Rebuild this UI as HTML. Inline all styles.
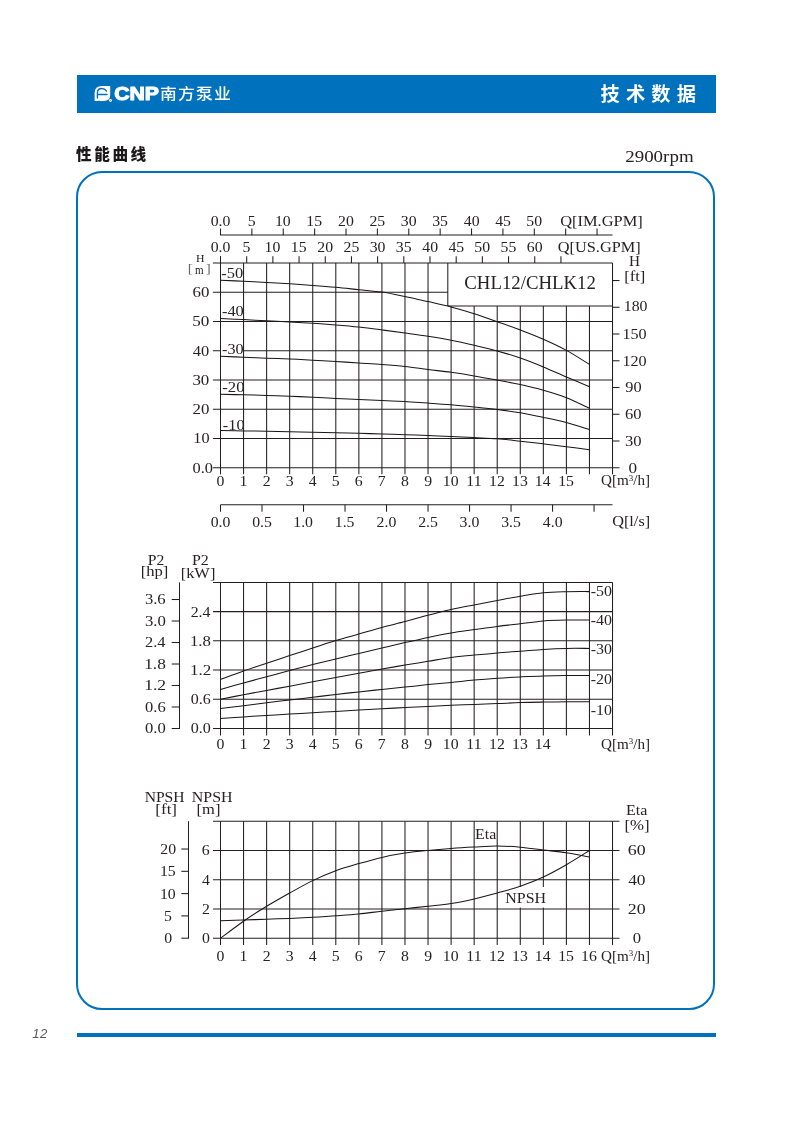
<!DOCTYPE html>
<html lang="zh-CN">
<head>
<meta charset="utf-8">
<title>CNP 南方泵业 - 技术数据 - 性能曲线 CHL12/CHLK12</title>
<style>
html,body{margin:0;padding:0;background:#fff;}
body{width:793px;height:1122px;position:relative;overflow:hidden;font-family:"Liberation Sans","Noto Sans CJK SC",sans-serif;}
.hdr{position:absolute;left:76.8px;top:74.8px;width:639px;height:37.9px;background:#0071bc;}
.brand{position:absolute;left:0;top:0;}
.sect{position:absolute;left:600.6px;top:80.8px;color:#fff;font-weight:700;font-size:19.2px;letter-spacing:6.2px;line-height:28px;white-space:nowrap;font-family:"Liberation Sans","Noto Sans CJK SC",sans-serif;}
.title{position:absolute;left:76.0px;top:143.3px;color:#1c1819;font-weight:900;font-size:15.6px;letter-spacing:2.6px;line-height:24px;white-space:nowrap;font-family:"Liberation Sans","Noto Sans CJK SC",sans-serif;}
.panel{position:absolute;left:76.2px;top:171.0px;width:634.9px;height:834.9px;border:2px solid #0071bc;border-radius:26px;}
.rule{position:absolute;left:76.8px;top:1032.6px;width:639px;height:4.1px;background:#0071bc;}
.pageno{position:absolute;left:32.2px;top:1025.7px;font-family:"Liberation Sans",sans-serif;font-style:italic;font-size:13.2px;line-height:16px;color:#58585a;letter-spacing:0.6px;}
svg.charts{position:absolute;left:0;top:0;}
svg.charts text{font-family:"Liberation Serif",serif;}
</style>
</head>
<body>
<div class="hdr"></div>
<svg class="brand" width="793" height="130" viewBox="0 0 793 130">
<path d="M94.6 100.9V92.9Q94.6 85.9 102 85.9H110.2V95.0Q110.2 100.9 103.8 100.9Z" fill="#fff"/>
<path d="M97.4 98.0V92.9Q97.4 88.5 101.9 88.5Q104.6 88.5 106.5 91.0M97.6 94.3L107.1 94.5" fill="none" stroke="#0071bc" stroke-width="1.35" stroke-linecap="round"/>
<path d="M98.9 100.2L99.3 101.2" stroke="#0071bc" stroke-width="0.5" fill="none"/>
<circle cx="110.5" cy="100.5" r="1.45" fill="#fff"/>
<circle cx="110.5" cy="100.5" r="0.45" fill="#0071bc"/>
<text x="0" y="0" transform="translate(114.2 100.1) scale(1.14 1)" font-family="'Liberation Sans',sans-serif" font-weight="700" font-size="18.6" fill="#fff" stroke="#fff" stroke-width="1.1" stroke-linejoin="round">CNP</text>
<text transform="translate(159.9 99.45) scale(1.1 1)" font-family="'Liberation Sans','Noto Sans CJK SC',sans-serif" font-weight="500" font-size="15.3" fill="#fff" letter-spacing="1.1">南方泵业</text>

</svg>
<div class="sect">技术数据</div>
<div class="title">性能曲线</div>
<div class="panel"></div>
<svg class="charts" width="793" height="1122" viewBox="0 0 793 1122" fill="none">
<text transform="translate(625.2 161.8) scale(1.17 1)" font-size="16.2" fill="#262223" id="rpm">2900rpm</text>
<path d="M220.50 234.90L612.52 234.90" stroke="#231f20" stroke-width="1.05"/>
<path d="M220.50 228.50L220.50 235.30" stroke="#231f20" stroke-width="1.05"/>
<text transform="translate(210.63 225.90) scale(1.1200 1)" font-size="14.1" fill="#262223" >0.0</text>
<path d="M251.88 228.50L251.88 235.30" stroke="#231f20" stroke-width="1.05"/>
<text transform="translate(247.79 225.90) scale(1.1200 1)" font-size="14.1" fill="#262223" >5</text>
<path d="M283.26 228.50L283.26 235.30" stroke="#231f20" stroke-width="1.05"/>
<text transform="translate(274.97 225.90) scale(1.1200 1)" font-size="14.1" fill="#262223" >10</text>
<path d="M314.64 228.50L314.64 235.30" stroke="#231f20" stroke-width="1.05"/>
<text transform="translate(306.37 225.90) scale(1.1200 1)" font-size="14.1" fill="#262223" >15</text>
<path d="M346.02 228.50L346.02 235.30" stroke="#231f20" stroke-width="1.05"/>
<text transform="translate(338.06 225.90) scale(1.1200 1)" font-size="14.1" fill="#262223" >20</text>
<path d="M377.40 228.50L377.40 235.30" stroke="#231f20" stroke-width="1.05"/>
<text transform="translate(369.46 225.90) scale(1.1200 1)" font-size="14.1" fill="#262223" >25</text>
<path d="M408.78 228.50L408.78 235.30" stroke="#231f20" stroke-width="1.05"/>
<text transform="translate(400.81 225.90) scale(1.1200 1)" font-size="14.1" fill="#262223" >30</text>
<path d="M440.16 228.50L440.16 235.30" stroke="#231f20" stroke-width="1.05"/>
<text transform="translate(432.20 225.90) scale(1.1200 1)" font-size="14.1" fill="#262223" >35</text>
<path d="M471.54 228.50L471.54 235.30" stroke="#231f20" stroke-width="1.05"/>
<text transform="translate(463.78 225.90) scale(1.1200 1)" font-size="14.1" fill="#262223" >40</text>
<path d="M502.92 228.50L502.92 235.30" stroke="#231f20" stroke-width="1.05"/>
<text transform="translate(495.18 225.90) scale(1.1200 1)" font-size="14.1" fill="#262223" >45</text>
<path d="M534.30 228.50L534.30 235.30" stroke="#231f20" stroke-width="1.05"/>
<text transform="translate(526.25 225.90) scale(1.1200 1)" font-size="14.1" fill="#262223" >50</text>
<path d="M565.68 228.50L565.68 235.30" stroke="#231f20" stroke-width="1.05"/>
<path d="M597.06 228.50L597.06 235.30" stroke="#231f20" stroke-width="1.05"/>
<text transform="translate(560.24 225.90) scale(1.1645 1)" font-size="14.1" fill="#262223" >Q[IM.GPM]</text>
<path d="M220.50 256.20L220.50 263.00" stroke="#231f20" stroke-width="1.05"/>
<text transform="translate(210.63 251.50) scale(1.1200 1)" font-size="14.1" fill="#262223" >0.0</text>
<path d="M246.69 256.20L246.69 263.00" stroke="#231f20" stroke-width="1.05"/>
<text transform="translate(242.60 251.50) scale(1.1200 1)" font-size="14.1" fill="#262223" >5</text>
<path d="M272.87 256.20L272.87 263.00" stroke="#231f20" stroke-width="1.05"/>
<text transform="translate(264.58 251.50) scale(1.1200 1)" font-size="14.1" fill="#262223" >10</text>
<path d="M299.06 256.20L299.06 263.00" stroke="#231f20" stroke-width="1.05"/>
<text transform="translate(290.79 251.50) scale(1.1200 1)" font-size="14.1" fill="#262223" >15</text>
<path d="M325.25 256.20L325.25 263.00" stroke="#231f20" stroke-width="1.05"/>
<text transform="translate(317.29 251.50) scale(1.1200 1)" font-size="14.1" fill="#262223" >20</text>
<path d="M351.44 256.20L351.44 263.00" stroke="#231f20" stroke-width="1.05"/>
<text transform="translate(343.50 251.50) scale(1.1200 1)" font-size="14.1" fill="#262223" >25</text>
<path d="M377.62 256.20L377.62 263.00" stroke="#231f20" stroke-width="1.05"/>
<text transform="translate(369.65 251.50) scale(1.1200 1)" font-size="14.1" fill="#262223" >30</text>
<path d="M403.81 256.20L403.81 263.00" stroke="#231f20" stroke-width="1.05"/>
<text transform="translate(395.86 251.50) scale(1.1200 1)" font-size="14.1" fill="#262223" >35</text>
<path d="M430.00 256.20L430.00 263.00" stroke="#231f20" stroke-width="1.05"/>
<text transform="translate(422.24 251.50) scale(1.1200 1)" font-size="14.1" fill="#262223" >40</text>
<path d="M456.19 256.20L456.19 263.00" stroke="#231f20" stroke-width="1.05"/>
<text transform="translate(448.45 251.50) scale(1.1200 1)" font-size="14.1" fill="#262223" >45</text>
<path d="M482.37 256.20L482.37 263.00" stroke="#231f20" stroke-width="1.05"/>
<text transform="translate(474.32 251.50) scale(1.1200 1)" font-size="14.1" fill="#262223" >50</text>
<path d="M508.56 256.20L508.56 263.00" stroke="#231f20" stroke-width="1.05"/>
<text transform="translate(500.53 251.50) scale(1.1200 1)" font-size="14.1" fill="#262223" >55</text>
<path d="M534.75 256.20L534.75 263.00" stroke="#231f20" stroke-width="1.05"/>
<text transform="translate(526.81 251.50) scale(1.1200 1)" font-size="14.1" fill="#262223" >60</text>
<path d="M560.93 256.20L560.93 263.00" stroke="#231f20" stroke-width="1.05"/>
<text transform="translate(557.75 251.50) scale(1.1587 1)" font-size="14.1" fill="#262223" >Q[US.GPM]</text>
<path d="M220.50 256.20L220.50 474.35" stroke="#231f20" stroke-width="1.05"/>
<path d="M243.56 263.00L243.56 474.35" stroke="#231f20" stroke-width="1.05"/>
<path d="M266.62 263.00L266.62 474.35" stroke="#231f20" stroke-width="1.05"/>
<path d="M289.68 263.00L289.68 474.35" stroke="#231f20" stroke-width="1.05"/>
<path d="M312.74 263.00L312.74 474.35" stroke="#231f20" stroke-width="1.05"/>
<path d="M335.80 263.00L335.80 474.35" stroke="#231f20" stroke-width="1.05"/>
<path d="M358.86 263.00L358.86 474.35" stroke="#231f20" stroke-width="1.05"/>
<path d="M381.92 263.00L381.92 474.35" stroke="#231f20" stroke-width="1.05"/>
<path d="M404.98 263.00L404.98 474.35" stroke="#231f20" stroke-width="1.05"/>
<path d="M428.04 263.00L428.04 474.35" stroke="#231f20" stroke-width="1.05"/>
<path d="M451.10 305.90L451.10 474.35" stroke="#231f20" stroke-width="1.05"/>
<path d="M474.16 305.90L474.16 474.35" stroke="#231f20" stroke-width="1.05"/>
<path d="M497.22 305.90L497.22 474.35" stroke="#231f20" stroke-width="1.05"/>
<path d="M520.28 305.90L520.28 474.35" stroke="#231f20" stroke-width="1.05"/>
<path d="M543.34 305.90L543.34 474.35" stroke="#231f20" stroke-width="1.05"/>
<path d="M566.40 305.90L566.40 474.35" stroke="#231f20" stroke-width="1.05"/>
<path d="M589.46 305.90L589.46 474.35" stroke="#231f20" stroke-width="1.05"/>
<path d="M612.52 263.00L612.52 474.35" stroke="#231f20" stroke-width="1.05"/>
<path d="M212.90 467.75L619.52 467.75" stroke="#231f20" stroke-width="1.05"/>
<path d="M212.90 438.50L612.52 438.50" stroke="#231f20" stroke-width="1.05"/>
<path d="M212.90 409.25L612.52 409.25" stroke="#231f20" stroke-width="1.05"/>
<path d="M212.90 380.00L612.52 380.00" stroke="#231f20" stroke-width="1.05"/>
<path d="M212.90 350.75L612.52 350.75" stroke="#231f20" stroke-width="1.05"/>
<path d="M212.90 321.50L612.52 321.50" stroke="#231f20" stroke-width="1.05"/>
<path d="M212.90 292.25L447.80 292.25" stroke="#231f20" stroke-width="1.05"/>
<path d="M212.90 263.00L612.52 263.00" stroke="#231f20" stroke-width="1.05"/>
<path d="M447.80 263.00L447.80 305.90" stroke="#231f20" stroke-width="1.05"/>
<path d="M447.80 305.90L612.52 305.90" stroke="#231f20" stroke-width="1.05"/>
<path d="M612.52 441.00L619.52 441.00" stroke="#231f20" stroke-width="1.05"/>
<path d="M612.52 414.26L619.52 414.26" stroke="#231f20" stroke-width="1.05"/>
<path d="M612.52 387.51L619.52 387.51" stroke="#231f20" stroke-width="1.05"/>
<path d="M612.52 360.77L619.52 360.77" stroke="#231f20" stroke-width="1.05"/>
<path d="M612.52 334.02L619.52 334.02" stroke="#231f20" stroke-width="1.05"/>
<path d="M612.52 307.27L619.52 307.27" stroke="#231f20" stroke-width="1.05"/>
<path d="M612.52 280.53L619.52 280.53" stroke="#231f20" stroke-width="1.05"/>
<text transform="translate(193.28 443.40) scale(1.1510 1)" font-size="14.1" fill="#262223" >10</text>
<text transform="translate(192.44 414.15) scale(1.1981 1)" font-size="14.1" fill="#262223" >20</text>
<text transform="translate(192.40 384.90) scale(1.2014 1)" font-size="14.1" fill="#262223" >30</text>
<text transform="translate(192.87 355.65) scale(1.1664 1)" font-size="14.1" fill="#262223" >40</text>
<text transform="translate(192.22 326.40) scale(1.2147 1)" font-size="14.1" fill="#262223" >50</text>
<text transform="translate(192.48 297.15) scale(1.1949 1)" font-size="14.1" fill="#262223" >60</text>
<text transform="translate(192.48 472.65) scale(1.1649 1)" font-size="14.1" fill="#262223" >0.0</text>
<text transform="translate(195.95 261.50) scale(1.0419 1)" font-size="11.3" fill="#262223" >H</text>
<text transform="translate(187.75 272.90) scale(1.1576 1)" font-size="13.2" fill="#6a6667" >[</text>
<text transform="translate(194.88 273.60) scale(0.9052 1)" font-size="12.2" fill="#262223" >m</text>
<text transform="translate(205.67 272.90) scale(1.1448 1)" font-size="13.2" fill="#6a6667" >]</text>
<text transform="translate(629.04 266.30) scale(1.0812 1)" font-size="14.1" fill="#262223" >H</text>
<text transform="translate(624.15 281.00) scale(1.1799 1)" font-size="14.1" fill="#262223" >[ft]</text>
<text transform="translate(623.71 310.50) scale(1.1244 1)" font-size="14.1" fill="#262223" >180</text>
<text transform="translate(622.49 338.92) scale(1.1451 1)" font-size="14.1" fill="#262223" >150</text>
<text transform="translate(622.49 365.67) scale(1.1451 1)" font-size="14.1" fill="#262223" >120</text>
<text transform="translate(625.27 392.41) scale(1.1592 1)" font-size="14.1" fill="#262223" >90</text>
<text transform="translate(625.10 419.16) scale(1.1718 1)" font-size="14.1" fill="#262223" >60</text>
<text transform="translate(625.01 445.90) scale(1.1782 1)" font-size="14.1" fill="#262223" >30</text>
<text transform="translate(628.46 472.55) scale(1.2182 1)" font-size="14.1" fill="#262223" >0</text>
<text transform="translate(216.55 485.80) scale(1.1200 1)" font-size="14.1" fill="#262223" >0</text>
<text transform="translate(239.39 485.80) scale(1.1200 1)" font-size="14.1" fill="#262223" >1</text>
<text transform="translate(262.75 485.80) scale(1.1200 1)" font-size="14.1" fill="#262223" >2</text>
<text transform="translate(285.67 485.80) scale(1.1200 1)" font-size="14.1" fill="#262223" >3</text>
<text transform="translate(308.75 485.80) scale(1.1200 1)" font-size="14.1" fill="#262223" >4</text>
<text transform="translate(331.71 485.80) scale(1.1200 1)" font-size="14.1" fill="#262223" >5</text>
<text transform="translate(354.81 485.80) scale(1.1200 1)" font-size="14.1" fill="#262223" >6</text>
<text transform="translate(377.70 485.80) scale(1.1200 1)" font-size="14.1" fill="#262223" >7</text>
<text transform="translate(401.03 485.80) scale(1.1200 1)" font-size="14.1" fill="#262223" >8</text>
<text transform="translate(424.15 485.80) scale(1.1200 1)" font-size="14.1" fill="#262223" >9</text>
<text transform="translate(442.81 485.80) scale(1.1200 1)" font-size="14.1" fill="#262223" >10</text>
<text transform="translate(466.34 485.80) scale(1.1200 1)" font-size="14.1" fill="#262223" >11</text>
<text transform="translate(489.07 485.80) scale(1.1200 1)" font-size="14.1" fill="#262223" >12</text>
<text transform="translate(512.01 485.80) scale(1.1200 1)" font-size="14.1" fill="#262223" >13</text>
<text transform="translate(534.87 485.80) scale(1.1200 1)" font-size="14.1" fill="#262223" >14</text>
<text transform="translate(558.13 485.80) scale(1.1200 1)" font-size="14.1" fill="#262223" >15</text>
<text transform="translate(600.99 485.40) scale(1.075 1)" font-size="14.1" fill="#262223">Q[m<tspan font-size="8.3" dy="-4.6">3</tspan><tspan dy="4.6">/h]</tspan></text>
<path d="M220.50 504.80L612.52 504.80" stroke="#231f20" stroke-width="1.05"/>
<path d="M220.50 504.80L220.50 511.80" stroke="#231f20" stroke-width="1.05"/>
<text transform="translate(210.63 527.30) scale(1.1200 1)" font-size="14.1" fill="#262223" >0.0</text>
<path d="M262.01 504.80L262.01 511.80" stroke="#231f20" stroke-width="1.05"/>
<text transform="translate(252.16 527.30) scale(1.1200 1)" font-size="14.1" fill="#262223" >0.5</text>
<path d="M303.52 504.80L303.52 511.80" stroke="#231f20" stroke-width="1.05"/>
<text transform="translate(293.25 527.30) scale(1.1200 1)" font-size="14.1" fill="#262223" >1.0</text>
<path d="M345.02 504.80L345.02 511.80" stroke="#231f20" stroke-width="1.05"/>
<text transform="translate(334.78 527.30) scale(1.1200 1)" font-size="14.1" fill="#262223" >1.5</text>
<path d="M386.53 504.80L386.53 511.80" stroke="#231f20" stroke-width="1.05"/>
<text transform="translate(376.60 527.30) scale(1.1200 1)" font-size="14.1" fill="#262223" >2.0</text>
<path d="M428.04 504.80L428.04 511.80" stroke="#231f20" stroke-width="1.05"/>
<text transform="translate(418.13 527.30) scale(1.1200 1)" font-size="14.1" fill="#262223" >2.5</text>
<path d="M469.55 504.80L469.55 511.80" stroke="#231f20" stroke-width="1.05"/>
<text transform="translate(459.60 527.30) scale(1.1200 1)" font-size="14.1" fill="#262223" >3.0</text>
<path d="M511.06 504.80L511.06 511.80" stroke="#231f20" stroke-width="1.05"/>
<text transform="translate(501.13 527.30) scale(1.1200 1)" font-size="14.1" fill="#262223" >3.5</text>
<path d="M552.56 504.80L552.56 511.80" stroke="#231f20" stroke-width="1.05"/>
<text transform="translate(542.83 527.30) scale(1.1200 1)" font-size="14.1" fill="#262223" >4.0</text>
<path d="M594.07 504.80L594.07 511.80" stroke="#231f20" stroke-width="1.05"/>
<text transform="translate(612.15 526.10) scale(1.1565 1)" font-size="14.1" fill="#262223" >Q[l/s]</text>
<text transform="translate(464.35 289.20) scale(1.0321 1)" font-size="18.2" fill="#262223" >CHL12/CHLK12</text>
<rect x="221.10" y="344" width="21.86" height="11" fill="#fff"/>
<path d="M220.50 280.20C224.34 280.38 235.87 280.92 243.56 281.30C251.25 281.68 258.93 282.08 266.62 282.50C274.31 282.92 281.99 283.32 289.68 283.80C297.37 284.28 305.05 284.82 312.74 285.40C320.43 285.98 328.11 286.58 335.80 287.30C343.49 288.02 351.17 288.90 358.86 289.70C366.55 290.50 374.23 290.97 381.92 292.10C389.61 293.23 397.29 294.92 404.98 296.50C412.67 298.08 420.35 299.87 428.04 301.60C435.73 303.33 443.41 304.88 451.10 306.90C458.79 308.92 466.47 311.23 474.16 313.70C481.85 316.17 489.53 318.98 497.22 321.70C504.91 324.42 512.59 327.07 520.28 330.00C527.97 332.93 535.65 335.90 543.34 339.30C551.03 342.70 558.71 346.22 566.40 350.40C574.09 354.58 585.62 362.07 589.46 364.40" stroke="#1a1617" stroke-width="1.05" fill="none"/>
<path d="M220.50 318.40C224.34 318.60 235.87 319.22 243.56 319.60C251.25 319.98 258.93 320.32 266.62 320.70C274.31 321.08 281.99 321.47 289.68 321.90C297.37 322.33 305.05 322.78 312.74 323.30C320.43 323.82 328.11 324.37 335.80 325.00C343.49 325.63 351.17 326.28 358.86 327.10C366.55 327.92 374.23 328.92 381.92 329.90C389.61 330.88 397.29 331.93 404.98 333.00C412.67 334.07 420.35 335.08 428.04 336.30C435.73 337.52 443.41 338.80 451.10 340.30C458.79 341.80 466.47 343.53 474.16 345.30C481.85 347.07 489.53 348.78 497.22 350.90C504.91 353.02 512.59 355.33 520.28 358.00C527.97 360.67 535.65 363.73 543.34 366.90C551.03 370.07 558.71 373.70 566.40 377.00C574.09 380.30 585.62 385.08 589.46 386.70" stroke="#1a1617" stroke-width="1.05" fill="none"/>
<path d="M220.50 356.30C224.34 356.45 235.87 356.88 243.56 357.20C251.25 357.52 258.93 357.90 266.62 358.20C274.31 358.50 281.99 358.67 289.68 359.00C297.37 359.33 305.05 359.78 312.74 360.20C320.43 360.62 328.11 361.03 335.80 361.50C343.49 361.97 351.17 362.50 358.86 363.00C366.55 363.50 374.23 363.92 381.92 364.50C389.61 365.08 397.29 365.67 404.98 366.50C412.67 367.33 420.35 368.53 428.04 369.50C435.73 370.47 443.41 371.23 451.10 372.30C458.79 373.37 466.47 374.60 474.16 375.90C481.85 377.20 489.53 378.65 497.22 380.10C504.91 381.55 512.59 382.90 520.28 384.60C527.97 386.30 535.65 388.12 543.34 390.30C551.03 392.48 558.71 394.70 566.40 397.70C574.09 400.70 585.62 406.53 589.46 408.30" stroke="#1a1617" stroke-width="1.05" fill="none"/>
<path d="M220.50 394.30C224.34 394.38 235.87 394.62 243.56 394.80C251.25 394.98 258.93 395.17 266.62 395.40C274.31 395.63 281.99 395.90 289.68 396.20C297.37 396.50 305.05 396.83 312.74 397.20C320.43 397.57 328.11 398.02 335.80 398.40C343.49 398.78 351.17 399.15 358.86 399.50C366.55 399.85 374.23 400.15 381.92 400.50C389.61 400.85 397.29 401.17 404.98 401.60C412.67 402.03 420.35 402.57 428.04 403.10C435.73 403.63 443.41 404.15 451.10 404.80C458.79 405.45 466.47 406.22 474.16 407.00C481.85 407.78 489.53 408.53 497.22 409.50C504.91 410.47 512.59 411.48 520.28 412.80C527.97 414.12 535.65 415.77 543.34 417.40C551.03 419.03 558.71 420.58 566.40 422.60C574.09 424.62 585.62 428.35 589.46 429.50" stroke="#1a1617" stroke-width="1.05" fill="none"/>
<path d="M220.50 430.60C224.34 430.65 235.87 430.78 243.56 430.90C251.25 431.02 258.93 431.17 266.62 431.30C274.31 431.43 281.99 431.55 289.68 431.70C297.37 431.85 305.05 432.02 312.74 432.20C320.43 432.38 328.11 432.62 335.80 432.80C343.49 432.98 351.17 433.10 358.86 433.30C366.55 433.50 374.23 433.77 381.92 434.00C389.61 434.23 397.29 434.45 404.98 434.70C412.67 434.95 420.35 435.20 428.04 435.50C435.73 435.80 443.41 436.15 451.10 436.50C458.79 436.85 466.47 437.22 474.16 437.60C481.85 437.98 489.53 438.20 497.22 438.80C504.91 439.40 512.59 440.37 520.28 441.20C527.97 442.03 535.65 442.88 543.34 443.80C551.03 444.72 558.71 445.72 566.40 446.70C574.09 447.68 585.62 449.20 589.46 449.70" stroke="#1a1617" stroke-width="1.05" fill="none"/>
<text transform="translate(221.29 277.70) scale(1.1618 1)" font-size="14.1" fill="#262223" >-50</text>
<text transform="translate(221.99 316.00) scale(1.1618 1)" font-size="14.1" fill="#262223" >-40</text>
<text transform="translate(221.99 354.40) scale(1.1505 1)" font-size="14.1" fill="#262223" >-30</text>
<text transform="translate(222.27 392.00) scale(1.1844 1)" font-size="14.1" fill="#262223" >-20</text>
<text transform="translate(222.68 429.70) scale(1.1675 1)" font-size="14.1" fill="#262223" >-10</text>
<path d="M220.50 582.40L220.50 735.50" stroke="#231f20" stroke-width="1.05"/>
<path d="M243.56 582.40L243.56 735.50" stroke="#231f20" stroke-width="1.05"/>
<path d="M266.62 582.40L266.62 735.50" stroke="#231f20" stroke-width="1.05"/>
<path d="M289.68 582.40L289.68 735.50" stroke="#231f20" stroke-width="1.05"/>
<path d="M312.74 582.40L312.74 735.50" stroke="#231f20" stroke-width="1.05"/>
<path d="M335.80 582.40L335.80 735.50" stroke="#231f20" stroke-width="1.05"/>
<path d="M358.86 582.40L358.86 735.50" stroke="#231f20" stroke-width="1.05"/>
<path d="M381.92 582.40L381.92 735.50" stroke="#231f20" stroke-width="1.05"/>
<path d="M404.98 582.40L404.98 735.50" stroke="#231f20" stroke-width="1.05"/>
<path d="M428.04 582.40L428.04 735.50" stroke="#231f20" stroke-width="1.05"/>
<path d="M451.10 582.40L451.10 735.50" stroke="#231f20" stroke-width="1.05"/>
<path d="M474.16 582.40L474.16 735.50" stroke="#231f20" stroke-width="1.05"/>
<path d="M497.22 582.40L497.22 735.50" stroke="#231f20" stroke-width="1.05"/>
<path d="M520.28 582.40L520.28 735.50" stroke="#231f20" stroke-width="1.05"/>
<path d="M543.34 582.40L543.34 735.50" stroke="#231f20" stroke-width="1.05"/>
<path d="M566.40 582.40L566.40 735.50" stroke="#231f20" stroke-width="1.05"/>
<path d="M589.46 582.40L589.46 735.50" stroke="#231f20" stroke-width="1.05"/>
<path d="M612.52 582.40L612.52 735.50" stroke="#231f20" stroke-width="1.05"/>
<path d="M213.00 728.50L612.52 728.50" stroke="#231f20" stroke-width="1.05"/>
<path d="M213.00 699.28L612.52 699.28" stroke="#231f20" stroke-width="1.05"/>
<path d="M213.00 670.06L612.52 670.06" stroke="#231f20" stroke-width="1.05"/>
<path d="M213.00 640.84L612.52 640.84" stroke="#231f20" stroke-width="1.05"/>
<path d="M213.00 611.62L612.52 611.62" stroke="#231f20" stroke-width="1.05"/>
<path d="M213.00 582.40L612.52 582.40" stroke="#231f20" stroke-width="1.05"/>
<path d="M179.50 582.40L179.50 728.90" stroke="#231f20" stroke-width="1.05"/>
<path d="M171.70 728.50L179.50 728.50" stroke="#231f20" stroke-width="1.05"/>
<text transform="translate(145.08 733.40) scale(1.1770 1)" font-size="14.1" fill="#262223" >0.0</text>
<path d="M171.70 707.00L179.50 707.00" stroke="#231f20" stroke-width="1.05"/>
<text transform="translate(145.08 711.90) scale(1.1695 1)" font-size="14.1" fill="#262223" >0.6</text>
<path d="M171.70 685.50L179.50 685.50" stroke="#231f20" stroke-width="1.05"/>
<text transform="translate(144.16 690.40) scale(1.2487 1)" font-size="14.1" fill="#262223" >1.2</text>
<path d="M171.70 664.01L179.50 664.01" stroke="#231f20" stroke-width="1.05"/>
<text transform="translate(144.18 668.91) scale(1.2293 1)" font-size="14.1" fill="#262223" >1.8</text>
<path d="M171.70 642.51L179.50 642.51" stroke="#231f20" stroke-width="1.05"/>
<text transform="translate(144.96 647.41) scale(1.1622 1)" font-size="14.1" fill="#262223" >2.4</text>
<path d="M171.70 621.01L179.50 621.01" stroke="#231f20" stroke-width="1.05"/>
<text transform="translate(144.90 625.91) scale(1.1871 1)" font-size="14.1" fill="#262223" >3.0</text>
<path d="M171.70 599.51L179.50 599.51" stroke="#231f20" stroke-width="1.05"/>
<text transform="translate(144.91 604.41) scale(1.1795 1)" font-size="14.1" fill="#262223" >3.6</text>
<text transform="translate(190.80 733.40) scale(1.1408 1)" font-size="14.1" fill="#262223" >0.0</text>
<text transform="translate(190.80 704.18) scale(1.1336 1)" font-size="14.1" fill="#262223" >0.6</text>
<text transform="translate(189.91 674.96) scale(1.2103 1)" font-size="14.1" fill="#262223" >1.2</text>
<text transform="translate(189.93 645.74) scale(1.1915 1)" font-size="14.1" fill="#262223" >1.8</text>
<text transform="translate(190.69 616.52) scale(1.1264 1)" font-size="14.1" fill="#262223" >2.4</text>
<text transform="translate(147.73 564.90) scale(1.1114 1)" font-size="14.1" fill="#262223" >P2</text>
<text transform="translate(140.65 575.70) scale(1.1824 1)" font-size="14.1" fill="#262223" >[hp]</text>
<text transform="translate(191.92 564.90) scale(1.1333 1)" font-size="14.1" fill="#262223" >P2</text>
<text transform="translate(180.67 577.60) scale(1.1673 1)" font-size="14.1" fill="#262223" >[kW]</text>
<text transform="translate(216.55 749.00) scale(1.1200 1)" font-size="14.1" fill="#262223" >0</text>
<text transform="translate(239.39 749.00) scale(1.1200 1)" font-size="14.1" fill="#262223" >1</text>
<text transform="translate(262.75 749.00) scale(1.1200 1)" font-size="14.1" fill="#262223" >2</text>
<text transform="translate(285.67 749.00) scale(1.1200 1)" font-size="14.1" fill="#262223" >3</text>
<text transform="translate(308.75 749.00) scale(1.1200 1)" font-size="14.1" fill="#262223" >4</text>
<text transform="translate(331.71 749.00) scale(1.1200 1)" font-size="14.1" fill="#262223" >5</text>
<text transform="translate(354.81 749.00) scale(1.1200 1)" font-size="14.1" fill="#262223" >6</text>
<text transform="translate(377.70 749.00) scale(1.1200 1)" font-size="14.1" fill="#262223" >7</text>
<text transform="translate(401.03 749.00) scale(1.1200 1)" font-size="14.1" fill="#262223" >8</text>
<text transform="translate(424.15 749.00) scale(1.1200 1)" font-size="14.1" fill="#262223" >9</text>
<text transform="translate(442.81 749.00) scale(1.1200 1)" font-size="14.1" fill="#262223" >10</text>
<text transform="translate(466.34 749.00) scale(1.1200 1)" font-size="14.1" fill="#262223" >11</text>
<text transform="translate(489.07 749.00) scale(1.1200 1)" font-size="14.1" fill="#262223" >12</text>
<text transform="translate(512.01 749.00) scale(1.1200 1)" font-size="14.1" fill="#262223" >13</text>
<text transform="translate(534.87 749.00) scale(1.1200 1)" font-size="14.1" fill="#262223" >14</text>
<text transform="translate(600.99 748.60) scale(1.075 1)" font-size="14.1" fill="#262223">Q[m<tspan font-size="8.3" dy="-4.6">3</tspan><tspan dy="4.6">/h]</tspan></text>
<path d="M220.50 679.60C224.34 678.17 235.87 673.73 243.56 671.00C251.25 668.27 258.93 665.77 266.62 663.20C274.31 660.63 281.99 658.12 289.68 655.60C297.37 653.08 305.05 650.60 312.74 648.10C320.43 645.60 328.11 642.95 335.80 640.60C343.49 638.25 351.17 636.20 358.86 634.00C366.55 631.80 374.23 629.48 381.92 627.40C389.61 625.32 397.29 623.53 404.98 621.50C412.67 619.47 420.35 617.20 428.04 615.20C435.73 613.20 443.41 611.22 451.10 609.50C458.79 607.78 466.47 606.40 474.16 604.90C481.85 603.40 489.53 601.95 497.22 600.50C504.91 599.05 512.59 597.50 520.28 596.20C527.97 594.90 535.65 593.45 543.34 592.70C551.03 591.95 558.71 591.88 566.40 591.70C574.09 591.52 585.62 591.62 589.46 591.60" stroke="#1a1617" stroke-width="1.05" fill="none"/>
<path d="M220.50 689.40C224.34 688.32 235.87 685.00 243.56 682.90C251.25 680.80 258.93 678.87 266.62 676.80C274.31 674.73 281.99 672.53 289.68 670.50C297.37 668.47 305.05 666.52 312.74 664.60C320.43 662.68 328.11 660.85 335.80 659.00C343.49 657.15 351.17 655.32 358.86 653.50C366.55 651.68 374.23 649.92 381.92 648.10C389.61 646.28 397.29 644.38 404.98 642.60C412.67 640.82 420.35 639.02 428.04 637.40C435.73 635.78 443.41 634.20 451.10 632.90C458.79 631.60 466.47 630.68 474.16 629.60C481.85 628.52 489.53 627.38 497.22 626.40C504.91 625.42 512.59 624.62 520.28 623.70C527.97 622.78 535.65 621.52 543.34 620.90C551.03 620.28 558.71 620.15 566.40 620.00C574.09 619.85 585.62 620.00 589.46 620.00" stroke="#1a1617" stroke-width="1.05" fill="none"/>
<path d="M220.50 699.30C224.34 698.53 235.87 696.18 243.56 694.70C251.25 693.22 258.93 691.82 266.62 690.40C274.31 688.98 281.99 687.63 289.68 686.20C297.37 684.77 305.05 683.27 312.74 681.80C320.43 680.33 328.11 678.82 335.80 677.40C343.49 675.98 351.17 674.70 358.86 673.30C366.55 671.90 374.23 670.37 381.92 669.00C389.61 667.63 397.29 666.38 404.98 665.10C412.67 663.82 420.35 662.55 428.04 661.30C435.73 660.05 443.41 658.63 451.10 657.60C458.79 656.57 466.47 655.88 474.16 655.10C481.85 654.32 489.53 653.55 497.22 652.90C504.91 652.25 512.59 651.78 520.28 651.20C527.97 650.62 535.65 649.87 543.34 649.40C551.03 648.93 558.71 648.57 566.40 648.40C574.09 648.23 585.62 648.40 589.46 648.40" stroke="#1a1617" stroke-width="1.05" fill="none"/>
<path d="M220.50 708.60C224.34 708.13 235.87 706.77 243.56 705.80C251.25 704.83 258.93 703.77 266.62 702.80C274.31 701.83 281.99 700.92 289.68 700.00C297.37 699.08 305.05 698.23 312.74 697.30C320.43 696.37 328.11 695.30 335.80 694.40C343.49 693.50 351.17 692.73 358.86 691.90C366.55 691.07 374.23 690.20 381.92 689.40C389.61 688.60 397.29 687.90 404.98 687.10C412.67 686.30 420.35 685.38 428.04 684.60C435.73 683.82 443.41 683.17 451.10 682.40C458.79 681.63 466.47 680.70 474.16 680.00C481.85 679.30 489.53 678.72 497.22 678.20C504.91 677.68 512.59 677.28 520.28 676.90C527.97 676.52 535.65 676.13 543.34 675.90C551.03 675.67 558.71 675.57 566.40 675.50C574.09 675.43 585.62 675.50 589.46 675.50" stroke="#1a1617" stroke-width="1.05" fill="none"/>
<path d="M220.50 718.40C224.34 718.15 235.87 717.40 243.56 716.90C251.25 716.40 258.93 715.87 266.62 715.40C274.31 714.93 281.99 714.53 289.68 714.10C297.37 713.67 305.05 713.25 312.74 712.80C320.43 712.35 328.11 711.85 335.80 711.40C343.49 710.95 351.17 710.55 358.86 710.10C366.55 709.65 374.23 709.12 381.92 708.70C389.61 708.28 397.29 707.98 404.98 707.60C412.67 707.22 420.35 706.78 428.04 706.40C435.73 706.02 443.41 705.63 451.10 705.30C458.79 704.97 466.47 704.68 474.16 704.40C481.85 704.12 489.53 703.90 497.22 703.60C504.91 703.30 512.59 702.85 520.28 702.60C527.97 702.35 535.65 702.23 543.34 702.10C551.03 701.97 558.71 701.85 566.40 701.80C574.09 701.75 585.62 701.80 589.46 701.80" stroke="#1a1617" stroke-width="1.05" fill="none"/>
<text transform="translate(590.70 596.20) scale(1.1280 1)" font-size="14.1" fill="#262223" >-50</text>
<text transform="translate(590.70 625.40) scale(1.1280 1)" font-size="14.1" fill="#262223" >-40</text>
<text transform="translate(590.70 654.40) scale(1.1280 1)" font-size="14.1" fill="#262223" >-30</text>
<text transform="translate(590.70 684.00) scale(1.1280 1)" font-size="14.1" fill="#262223" >-20</text>
<text transform="translate(590.70 715.00) scale(1.1280 1)" font-size="14.1" fill="#262223" >-10</text>
<path d="M220.50 821.16L220.50 945.00" stroke="#231f20" stroke-width="1.05"/>
<path d="M243.56 821.16L243.56 945.00" stroke="#231f20" stroke-width="1.05"/>
<path d="M266.62 821.16L266.62 945.00" stroke="#231f20" stroke-width="1.05"/>
<path d="M289.68 821.16L289.68 945.00" stroke="#231f20" stroke-width="1.05"/>
<path d="M312.74 821.16L312.74 945.00" stroke="#231f20" stroke-width="1.05"/>
<path d="M335.80 821.16L335.80 945.00" stroke="#231f20" stroke-width="1.05"/>
<path d="M358.86 821.16L358.86 945.00" stroke="#231f20" stroke-width="1.05"/>
<path d="M381.92 821.16L381.92 945.00" stroke="#231f20" stroke-width="1.05"/>
<path d="M404.98 821.16L404.98 945.00" stroke="#231f20" stroke-width="1.05"/>
<path d="M428.04 821.16L428.04 945.00" stroke="#231f20" stroke-width="1.05"/>
<path d="M451.10 821.16L451.10 945.00" stroke="#231f20" stroke-width="1.05"/>
<path d="M474.16 821.16L474.16 945.00" stroke="#231f20" stroke-width="1.05"/>
<path d="M497.22 821.16L497.22 945.00" stroke="#231f20" stroke-width="1.05"/>
<path d="M520.28 821.16L520.28 945.00" stroke="#231f20" stroke-width="1.05"/>
<path d="M543.34 821.16L543.34 945.00" stroke="#231f20" stroke-width="1.05"/>
<path d="M566.40 821.16L566.40 945.00" stroke="#231f20" stroke-width="1.05"/>
<path d="M589.46 821.16L589.46 945.00" stroke="#231f20" stroke-width="1.05"/>
<path d="M612.52 821.16L612.52 945.00" stroke="#231f20" stroke-width="1.05"/>
<path d="M213.00 938.20L619.52 938.20" stroke="#231f20" stroke-width="1.05"/>
<path d="M213.00 908.94L619.52 908.94" stroke="#231f20" stroke-width="1.05"/>
<path d="M213.00 879.68L619.52 879.68" stroke="#231f20" stroke-width="1.05"/>
<path d="M213.00 850.42L619.52 850.42" stroke="#231f20" stroke-width="1.05"/>
<path d="M213.00 821.16L619.52 821.16" stroke="#231f20" stroke-width="1.05"/>
<path d="M188.50 821.16L188.50 938.60" stroke="#231f20" stroke-width="1.05"/>
<path d="M181.30 938.20L188.50 938.20" stroke="#231f20" stroke-width="1.05"/>
<text transform="translate(164.25 943.10) scale(1.1200 1)" font-size="14.1" fill="#262223" >0</text>
<path d="M181.30 915.90L188.50 915.90" stroke="#231f20" stroke-width="1.05"/>
<text transform="translate(164.11 920.80) scale(1.1200 1)" font-size="14.1" fill="#262223" >5</text>
<path d="M181.30 893.61L188.50 893.61" stroke="#231f20" stroke-width="1.05"/>
<text transform="translate(159.91 898.51) scale(1.1200 1)" font-size="14.1" fill="#262223" >10</text>
<path d="M181.30 871.31L188.50 871.31" stroke="#231f20" stroke-width="1.05"/>
<text transform="translate(159.93 876.21) scale(1.1200 1)" font-size="14.1" fill="#262223" >15</text>
<path d="M181.30 849.02L188.50 849.02" stroke="#231f20" stroke-width="1.05"/>
<text transform="translate(160.24 853.92) scale(1.1200 1)" font-size="14.1" fill="#262223" >20</text>
<text transform="translate(201.95 943.10) scale(1.1200 1)" font-size="14.1" fill="#262223" >0</text>
<text transform="translate(202.03 913.84) scale(1.1200 1)" font-size="14.1" fill="#262223" >2</text>
<text transform="translate(201.91 884.58) scale(1.1200 1)" font-size="14.1" fill="#262223" >4</text>
<text transform="translate(201.85 855.32) scale(1.1200 1)" font-size="14.1" fill="#262223" >6</text>
<text transform="translate(144.63 802.20) scale(1.1103 1)" font-size="14.1" fill="#262223" >NPSH</text>
<text transform="translate(191.82 802.20) scale(1.1302 1)" font-size="14.1" fill="#262223" >NPSH</text>
<text transform="translate(155.33 814.00) scale(1.2050 1)" font-size="14.1" fill="#262223" >[ft]</text>
<text transform="translate(196.56 814.00) scale(1.1720 1)" font-size="14.1" fill="#262223" >[m]</text>
<text transform="translate(216.55 961.30) scale(1.1200 1)" font-size="14.1" fill="#262223" >0</text>
<text transform="translate(239.39 961.30) scale(1.1200 1)" font-size="14.1" fill="#262223" >1</text>
<text transform="translate(262.75 961.30) scale(1.1200 1)" font-size="14.1" fill="#262223" >2</text>
<text transform="translate(285.67 961.30) scale(1.1200 1)" font-size="14.1" fill="#262223" >3</text>
<text transform="translate(308.75 961.30) scale(1.1200 1)" font-size="14.1" fill="#262223" >4</text>
<text transform="translate(331.71 961.30) scale(1.1200 1)" font-size="14.1" fill="#262223" >5</text>
<text transform="translate(354.81 961.30) scale(1.1200 1)" font-size="14.1" fill="#262223" >6</text>
<text transform="translate(377.70 961.30) scale(1.1200 1)" font-size="14.1" fill="#262223" >7</text>
<text transform="translate(401.03 961.30) scale(1.1200 1)" font-size="14.1" fill="#262223" >8</text>
<text transform="translate(424.15 961.30) scale(1.1200 1)" font-size="14.1" fill="#262223" >9</text>
<text transform="translate(442.81 961.30) scale(1.1200 1)" font-size="14.1" fill="#262223" >10</text>
<text transform="translate(466.34 961.30) scale(1.1200 1)" font-size="14.1" fill="#262223" >11</text>
<text transform="translate(489.07 961.30) scale(1.1200 1)" font-size="14.1" fill="#262223" >12</text>
<text transform="translate(512.01 961.30) scale(1.1200 1)" font-size="14.1" fill="#262223" >13</text>
<text transform="translate(534.87 961.30) scale(1.1200 1)" font-size="14.1" fill="#262223" >14</text>
<text transform="translate(558.13 961.30) scale(1.1200 1)" font-size="14.1" fill="#262223" >15</text>
<text transform="translate(581.11 961.30) scale(1.1200 1)" font-size="14.1" fill="#262223" >16</text>
<text transform="translate(600.99 961.00) scale(1.075 1)" font-size="14.1" fill="#262223">Q[m<tspan font-size="8.3" dy="-4.6">3</tspan><tspan dy="4.6">/h]</tspan></text>
<text transform="translate(626.02 814.70) scale(1.1348 1)" font-size="14.1" fill="#262223" >Eta</text>
<text transform="translate(624.44 830.40) scale(1.1925 1)" font-size="14.1" fill="#262223" >[%]</text>
<text transform="translate(627.70 913.84) scale(1.2677 1)" font-size="14.1" fill="#262223" >20</text>
<text transform="translate(628.15 884.58) scale(1.2341 1)" font-size="14.1" fill="#262223" >40</text>
<text transform="translate(627.74 855.32) scale(1.2643 1)" font-size="14.1" fill="#262223" >60</text>
<text transform="translate(632.87 943.10) scale(1.1848 1)" font-size="14.1" fill="#262223" >0</text>
<rect x="504.6" y="887" width="42.6" height="20.6" fill="#fff"/>
<path d="M220.50 938.20C224.34 935.37 235.87 926.52 243.56 921.20C251.25 915.88 258.93 911.00 266.62 906.30C274.31 901.60 281.99 897.28 289.68 893.00C297.37 888.72 305.05 884.30 312.74 880.60C320.43 876.90 328.11 873.63 335.80 870.80C343.49 867.97 351.17 865.83 358.86 863.60C366.55 861.37 374.23 859.15 381.92 857.40C389.61 855.65 397.29 854.27 404.98 853.10C412.67 851.93 420.35 851.18 428.04 850.40C435.73 849.62 443.41 848.97 451.10 848.40C458.79 847.83 466.47 847.40 474.16 847.00C481.85 846.60 489.53 845.97 497.22 846.00C504.91 846.03 512.59 846.53 520.28 847.20C527.97 847.87 535.65 849.07 543.34 850.00C551.03 850.93 558.71 851.62 566.40 852.80C574.09 853.98 585.62 856.38 589.46 857.10" stroke="#1a1617" stroke-width="1.05" fill="none"/>
<path d="M220.50 920.70C224.34 920.58 235.87 920.25 243.56 920.00C251.25 919.75 258.93 919.47 266.62 919.20C274.31 918.93 281.99 918.72 289.68 918.40C297.37 918.08 305.05 917.73 312.74 917.30C320.43 916.87 328.11 916.35 335.80 915.80C343.49 915.25 351.17 914.77 358.86 914.00C366.55 913.23 374.23 912.08 381.92 911.20C389.61 910.32 397.29 909.53 404.98 908.70C412.67 907.87 420.35 907.07 428.04 906.20C435.73 905.33 443.41 904.72 451.10 903.50C458.79 902.28 466.47 900.67 474.16 898.90C481.85 897.13 489.53 895.00 497.22 892.90C504.91 890.80 512.59 888.95 520.28 886.30C527.97 883.65 535.65 880.60 543.34 877.00C551.03 873.40 558.71 869.12 566.40 864.70C574.09 860.28 585.62 852.87 589.46 850.50" stroke="#1a1617" stroke-width="1.05" fill="none"/>
<text transform="translate(475.12 839.20) scale(1.1292 1)" font-size="14.1" fill="#262223" >Eta</text>
<text transform="translate(505.32 902.80) scale(1.1330 1)" font-size="14.1" fill="#262223" >NPSH</text>
</svg>
<div class="rule"></div>
<div class="pageno">12</div>
</body>
</html>
